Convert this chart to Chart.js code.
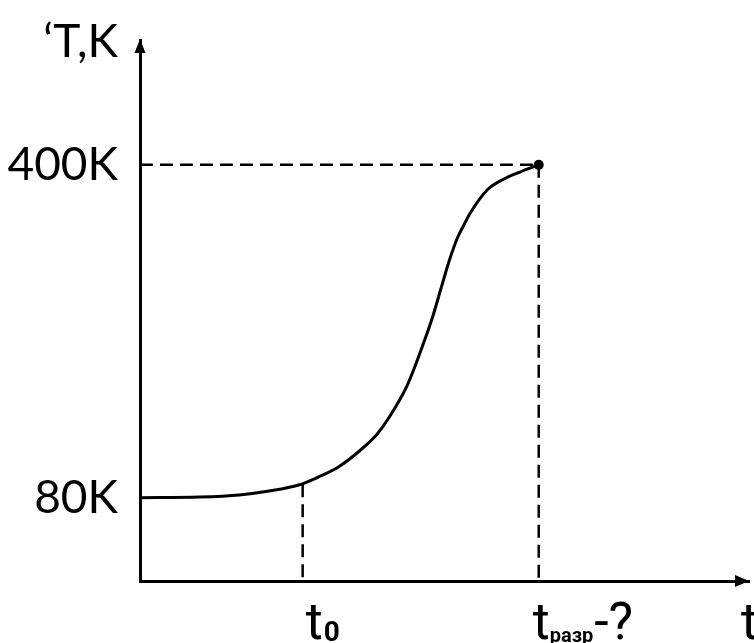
<!DOCTYPE html>
<html lang="ru">
<head>
  <meta charset="UTF-8">
  <title>T(t)</title>
  <script src="https://cdn.jsdelivr.net/npm/chart.js"></script>
  <style>
    html, body { margin: 0; padding: 0; background: #fff; }
    .chart-container { width: 754px; height: 643px; }
  </style>
</head>
<body>
  <div class="chart-container">
    <canvas id="heatChart"></canvas>
  </div>

  <script>
    // heating curve (time in arbitrary units, T in K)
    const timeValues = [0, 6, 10, 13, 16, 18, 20, 22, 24, 25.7, 27, 28.7, 29.5, 30.3, 31.2, 32, 32.6, 33.3, 35, 36.7, 38.3, 40.2];
    const tempValues = [80, 80.7, 82.7, 86.5, 92.3, 100, 109.6, 124, 142.3, 166.3, 189.3, 231.6, 253.7, 279.7, 308.5, 329.7, 341.2, 353.7, 375.8, 386.4, 393.1, 400];

    const tStart = 16.4;    // t0
    const tStartTemp = 93;
    const tBreak = 40.2;    // t разр
    const tempLow = 80;
    const tempHigh = 400;
    const yTicks = [tempLow, tempHigh];

    const xMax = 61.4;
    const yMax = 520;

    const curve = timeValues.map((t, i) => ({ x: t, y: tempValues[i] }));

    // axis arrows and text labels
    const labelsPlugin = {
      id: 'labels',
      afterDraw(chart) {
        const { ctx, chartArea, scales } = chart;
        const x = scales.x;
        const left = chartArea.left, bottom = chartArea.bottom;
        ctx.save();
        ctx.fillStyle = '#000';

        // arrow on y
        ctx.beginPath();
        ctx.moveTo(left, chartArea.top - 1);
        ctx.lineTo(left - 5.5, chartArea.top + 13);
        ctx.lineTo(left + 5.5, chartArea.top + 13);
        ctx.closePath();
        ctx.fill();

        // arrow on x
        ctx.beginPath();
        ctx.moveTo(chartArea.right, bottom);
        ctx.lineTo(chartArea.right - 14, bottom - 6);
        ctx.lineTo(chartArea.right - 14, bottom + 6);
        ctx.closePath();
        ctx.fill();

        // y title
        ctx.font = '46px Lato';
        ctx.textAlign = 'right';
        ctx.textBaseline = 'alphabetic';
        ctx.fillText('\u2018T,K', 118, 57);

        // x labels
        const big = '52px "Liberation Sans Narrow", "Roboto", sans-serif';
        const base = 639;

        let px = x.getPixelForValue(tStart) + 3;
        ctx.textAlign = 'left';
        ctx.font = big;
        ctx.fillText('t', px, base);
        px += ctx.measureText('t').width + 1;
        ctx.font = 'bold 28px "Liberation Sans Narrow", "Roboto", sans-serif';
        ctx.fillText('0', px, base + 2);

        px = x.getPixelForValue(tBreak) - 6;
        ctx.font = big;
        ctx.fillText('t', px, base);
        px += ctx.measureText('t').width;
        ctx.font = 'bold 20px "Liberation Sans Narrow", "Roboto", sans-serif';
        ctx.fillText('разр', px, base + 3);
        px += ctx.measureText('разр').width + 1;
        ctx.font = big;
        ctx.fillText('-?', px, base);

        ctx.fillText('t', 741, base);
        ctx.restore();
      }
    };

    const ctx = document.getElementById('heatChart').getContext('2d');
    const heatChart = new Chart(ctx, {
      type: 'line',
      data: {
        datasets: [
          {
            label: 'T(t)',
            data: curve,
            borderColor: '#000',
            borderWidth: 3,
            pointRadius: 0,
            cubicInterpolationMode: 'monotone',
            fill: false,
          },
          {
            label: '400K level',
            data: [{ x: 0, y: tempHigh }, { x: tBreak, y: tempHigh }],
            borderColor: '#000',
            borderWidth: 2.5,
            borderDash: [13, 7],
            pointRadius: 0,
          },
          {
            label: 't razr',
            data: [{ x: tBreak, y: tempHigh }, { x: tBreak, y: 0 }],
            borderColor: '#000',
            borderWidth: 2.5,
            borderDash: [13, 7],
            pointRadius: 0,
          },
          {
            label: 't0',
            data: [{ x: tStart, y: tStartTemp }, { x: tStart, y: 0 }],
            borderColor: '#000',
            borderWidth: 2.5,
            borderDash: [13, 7],
            pointRadius: 0,
          },
          {
            label: 'end point',
            data: [{ x: tBreak, y: tempHigh }],
            showLine: false,
            pointRadius: 5,
            pointBackgroundColor: '#000',
            pointBorderWidth: 0,
          },
        ],
      },
      options: {
        responsive: true,
        maintainAspectRatio: false,
        animation: false,
        layout: { padding: { top: 40, right: 0, left: 0, bottom: 0 } },
        scales: {
          x: {
            type: 'linear',
            min: 0,
            max: xMax,
            grid: { display: false, drawTicks: false },
            border: { display: true, color: '#000', width: 3 },
            ticks: { display: false },
            afterFit: s => { s.height = 62; },
          },
          y: {
            min: 0,
            max: yMax,
            grid: { display: false, drawTicks: false },
            border: { display: true, color: '#000', width: 3 },
            afterBuildTicks: s => { s.ticks = yTicks.map(v => ({ value: v })); },
            ticks: {
              color: '#000',
              padding: 22,
              // small line height so the label box does not push the plot area down
              font: { family: 'Lato', size: 46, lineHeight: 0.75 },
              callback: v => v + 'K',
            },
            afterFit: s => { s.width = 140; },
          },
        },
        plugins: {
          legend: { display: false },
          tooltip: { enabled: false },
        },
      },
      plugins: [labelsPlugin],
    });
  </script>
</body>
</html>
